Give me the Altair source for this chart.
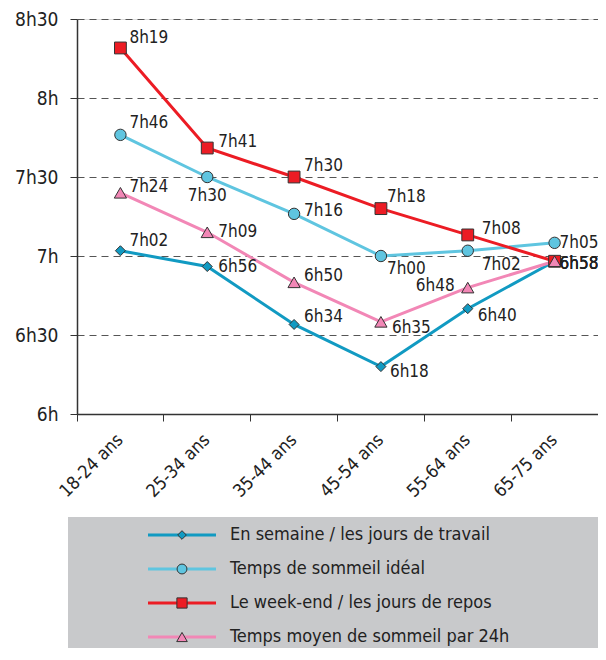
import altair as alt
import pandas as pd

# ---- data ----
categories = ["18-24 ans", "25-34 ans", "35-44 ans", "45-54 ans", "55-64 ans", "65-75 ans"]
series_names = [
    "En semaine / les jours de travail",
    "Temps de sommeil idéal",
    "Le week-end / les jours de repos",
    "Temps moyen de sommeil par 24h",
]
# minutes of sleep
semaine = [422, 416, 394, 378, 400, 418]
ideal = [466, 450, 436, 420, 422, 425]
weekend = [499, 461, 450, 438, 428, 418]
moyen = [444, 429, 410, 395, 408, 418]
values = [semaine, ideal, weekend, moyen]

y_ticks = [360, 390, 420, 450, 480, 510]

# ---- styles ----
colors = ["#119ac2", "#5fc5e0", "#ec1c24", "#f287b6"]
shapes = ["diamond", "circle", "square", "triangle-up"]
sizes = [100, 130, 140, 150]
FONT = "DejaVu Sans Condensed, Roboto, sans-serif"

# label placement per series (align, dx, dy)
label_style = {
    0: [("left", 9, -10), ("left", 11, 0), ("left", 10, -7), ("left", 9, 5), ("left", 10, 7), ("left", 5, 3)],
    1: [("left", 9, -12), ("center", 0, 19), ("left", 10, -3), ("left", 6, 13), ("left", 14, 14), ("left", 5, 0)],
    2: [("left", 9, -10), ("left", 11, -6), ("left", 10, -11), ("left", 6, -12), ("left", 14, -6), ("left", 5, 3)],
    3: [("left", 9, -6), ("left", 11, 0), ("left", 10, -6), ("left", 11, 6), ("right", -13, -2), ("left", 5, 3)],
}


def fmt(m):
    return f"{m // 60}h{m % 60:02d}"


rows = []
for si, s in enumerate(series_names):
    for ci, c in enumerate(categories):
        rows.append({"series": s, "cat": c, "min": values[si][ci], "label": fmt(values[si][ci]), "si": si, "ci": ci})
df = pd.DataFrame(rows)

W = 521
H = 395
PAD = {"left": 69, "top": 11, "right": 0, "bottom": 234}

x_enc = alt.X(
    "cat:N",
    sort=categories,
    scale=alt.Scale(type="band", paddingInner=0, paddingOuter=0),
    axis=alt.Axis(
        title=None,
        labelAngle=-45,
        labelAlign="right",
        labelBaseline="middle",
        bandPosition=0,
        tickSize=7,
        labelPadding=16,
        grid=False,
        labelFontSize=18,
        labelFont=FONT,
        labelColor="#222",
        domainColor="#333",
        tickColor="#333",
        domainWidth=1.5,
    ),
)
y_enc = alt.Y(
    "min:Q",
    scale=alt.Scale(domain=[360, 510], nice=False, zero=False),
    axis=alt.Axis(
        title=None,
        values=y_ticks,
        labelExpr="floor(datum.value/60) + 'h' + (datum.value % 60 == 0 ? '' : datum.value % 60)",
        tickSize=7,
        labelPadding=12,
        labelFontSize=19,
        labelFont=FONT,
        labelColor="#222",
        grid=True,
        gridDash=[7, 5],
        gridColor="#555",
        gridWidth=1,
        domainColor="#333",
        tickColor="#333",
        domainWidth=1.5,
    ),
)

# ---- legend background (below the plot) ----
LEG_TOP = H + 103
ROW0 = H + 121
ROW_STEP = 34
bg = alt.Chart(pd.DataFrame({"a": [0]})).mark_rect(color="#c8c9cb").encode(
    x=alt.value(-9), x2=alt.value(W + 20), y=alt.value(LEG_TOP), y2=alt.value(LEG_TOP + 160)
)

base = alt.Chart(df)
layers = [bg]
for si, s in enumerate(series_names):
    sub = base.transform_filter(alt.datum.si == si)
    layers.append(
        sub.mark_line(strokeWidth=3, color=colors[si]).encode(x=x_enc, y=y_enc)
    )
for si, s in enumerate(series_names):
    sub = base.transform_filter(alt.datum.si == si)
    layers.append(
        sub.mark_point(filled=True, fill=colors[si], stroke="#333", strokeWidth=1, opacity=1,
                       shape=shapes[si], size=sizes[si]).encode(x=x_enc, y=y_enc)
    )
for si in range(len(series_names)):
    for ci in range(len(categories)):
        align, dx, dy = label_style[si][ci]
        sub = base.transform_filter((alt.datum.si == si) & (alt.datum.ci == ci))
        layers.append(
            sub.mark_text(align=align, baseline="middle", dx=dx, dy=dy, fontSize=17, font=FONT, color="#222")
            .encode(x=x_enc, y=y_enc, text="label:N")
        )

# ---- legend entries ----
leg_df = pd.DataFrame({"series": series_names, "si": list(range(4))})
leg_base = alt.Chart(leg_df)
for si in range(4):
    sub = leg_base.transform_filter(alt.datum.si == si)
    ry = ROW0 + ROW_STEP * si
    layers.append(sub.mark_rule(strokeWidth=3, color=colors[si]).encode(
        x=alt.value(71), x2=alt.value(139), y=alt.value(ry)))
    layers.append(sub.mark_point(filled=True, fill=colors[si], stroke="#333", strokeWidth=1, opacity=1,
                                 shape=shapes[si], size=sizes[si] * 0.75).encode(x=alt.value(105), y=alt.value(ry)))
    layers.append(sub.mark_text(align="left", baseline="middle", fontSize=18, font=FONT, color="#222")
                  .encode(x=alt.value(153), y=alt.value(ry), text="series:N"))

chart = alt.layer(*layers).properties(
    width=W, height=H,
    autosize=alt.AutoSizeParams(type="none"),
    padding=PAD,
).configure_view(stroke=None).configure(background="white")

chart.save("out.html", embed_options={"renderer": "svg", "actions": False})
